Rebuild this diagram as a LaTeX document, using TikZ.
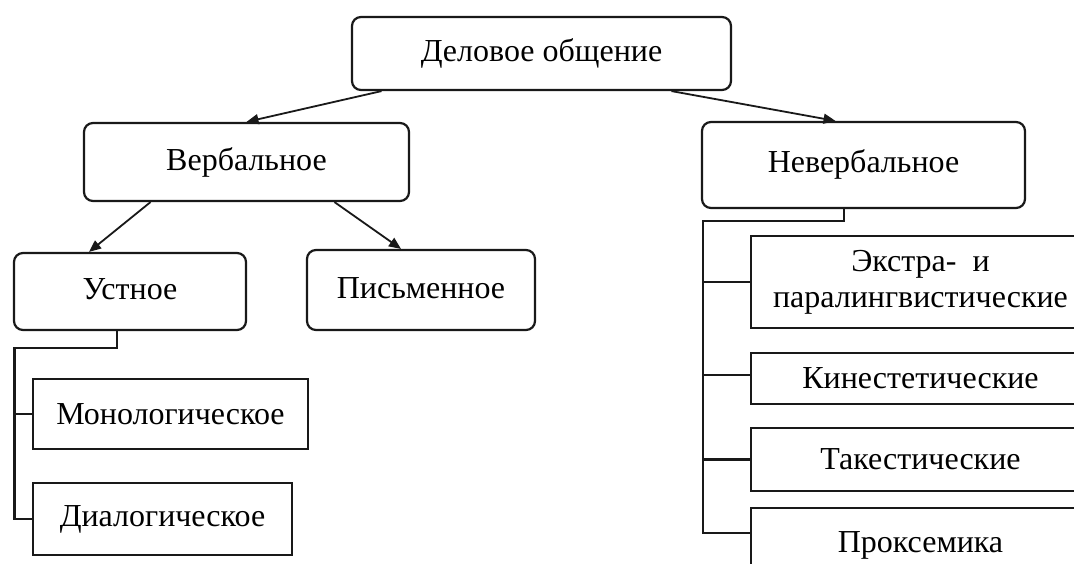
\documentclass[tikz,border=0pt]{standalone}
\usepackage{fontspec}
\setmainfont{Liberation Serif}
\usetikzlibrary{arrows.meta}
\begin{document}
\begin{tikzpicture}[x=1pt,y=-1pt,
  every node/.style={font=\fontsize{32}{36}\selectfont, text=black},
  rbox/.style={draw=black!90, line width=2.2pt, rounded corners=9pt, inner sep=0pt, align=center},
  sbox/.style={draw=black!90, line width=2.2pt, inner sep=0pt, align=center},
  arr/.style={line width=1.8pt, draw=black!90, -{Triangle[length=12pt,width=10pt]}},
  link/.style={line width=2.2pt, draw=black!90}]
\clip (0,0) rectangle (1074,564);
\fill[white] (0,0) rectangle (1074,564);

\node[rbox, minimum width=379pt, minimum height=73pt] (top) at (541.5,53.5) {Деловое общение};
\node[rbox, minimum width=325pt, minimum height=78pt] (verb) at (246.5,162) {\raisebox{3pt}{Вербальное}};
\node[rbox, minimum width=323pt, minimum height=86pt] (nev) at (863.5,165) {\raisebox{7pt}{Невербальное}};
\node[rbox, minimum width=232pt, minimum height=77pt] (ust) at (130,291.5) {\raisebox{4pt}{Устное}};
\node[rbox, minimum width=228pt, minimum height=80pt] (pis) at (421,290) {\raisebox{4pt}{Письменное}};
\node[sbox, minimum width=275pt, minimum height=70pt] (mono) at (170.5,414) {Монологическое};
\node[sbox, minimum width=259pt, minimum height=72pt] (dia) at (162.5,519) {Диалогическое};
\node[sbox, minimum width=339pt, minimum height=92pt] (ekstra) at (920.5,282) {Экстра-\ \ и\\паралингвистические};
\node[sbox, minimum width=339pt, minimum height=51pt] (kin) at (920.5,378.5) {Кинестетические};
\node[sbox, minimum width=339pt, minimum height=63pt] (tak) at (920.5,459.5) {Такестические};
\node[sbox, minimum width=339pt, minimum height=80pt] (prox) at (920.5,548) {\raisebox{11pt}{Проксемика}};

\draw[arr] ([xshift=-160pt]top.south) -- (verb.north);
\draw[arr] ([xshift=130pt]top.south) -- ([xshift=-28pt]nev.north);
\draw[arr] ([xshift=-96pt]verb.south) -- ([xshift=-41pt]ust.north);
\draw[arr] ([xshift=88pt]verb.south) -- ([xshift=-20pt]pis.north);

\coordinate (ut) at (14.5,348);
\draw[link] ([xshift=-13pt]ust.south) |- (ut) -- (ut |- dia.west) -- (dia.west);
\draw[link] (ut |- mono.west) -- (mono.west);

\coordinate (nt) at (703,221);
\coordinate (pb) at ([yshift=15pt]prox.west);
\coordinate (kb) at ([yshift=3.5pt]kin.west);
\draw[link] ([xshift=-19.5pt]nev.south) |- (nt) -- (nt |- pb) -- (pb);
\draw[link] (nt |- ekstra.west) -- (ekstra.west);
\draw[link] (nt |- kb) -- (kb);
\draw[link] (nt |- tak.west) -- (tak.west);
\end{tikzpicture}
\end{document}
